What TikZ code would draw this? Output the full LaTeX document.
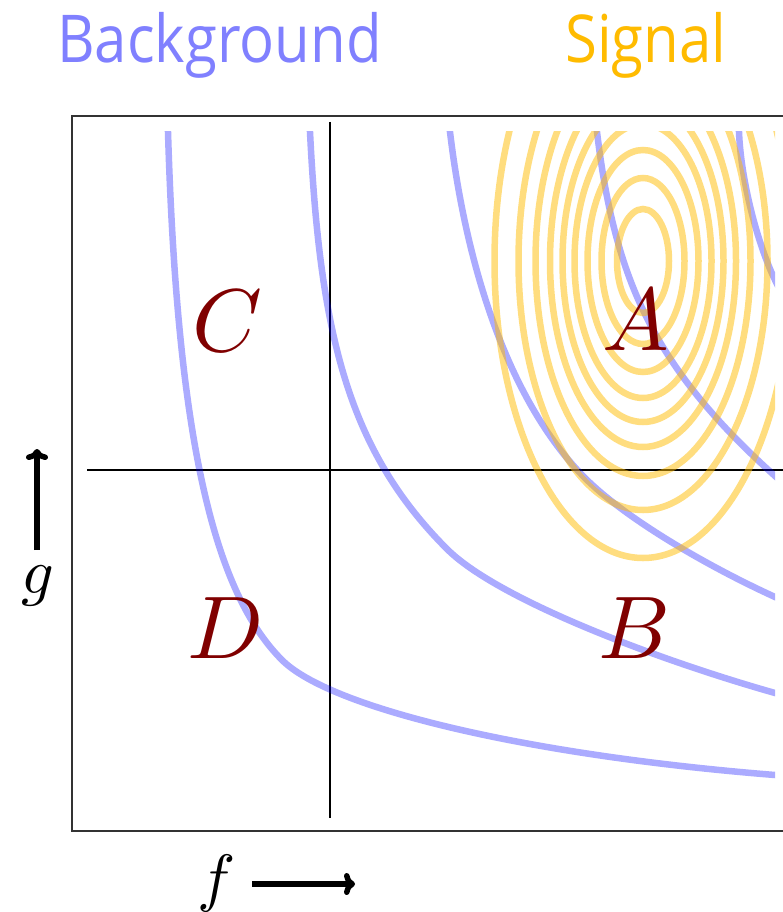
\documentclass[tikz,border=0pt]{standalone}
\usepackage{fontspec}
\newfontfamily\headfont{Open Sans}
\usetikzlibrary{arrows.meta}
\definecolor{bgblue}{RGB}{128,128,255}
\definecolor{sigorange}{RGB}{255,187,0}
\definecolor{labred}{RGB}{128,0,0}
\begin{document}
\begin{tikzpicture}[x=1pt,y=-1pt,
  bgcurve/.style={line width=6.5pt, color=blue, opacity=0.33},
  sigcurve/.style={line width=6.5pt, color=sigorange, opacity=0.5},
  framestyle/.style={line width=1.5pt, color=black!80},
  axisline/.style={line width=1.4pt, color=black},
  biglabel/.style={inner sep=0pt, text=labred},
  axlabel/.style={inner sep=0pt},
  headlabel/.style={inner sep=0pt, anchor=base west, font=\headfont\fontsize{66}{66}\selectfont},
  bigarrow/.style={line width=5.5pt, -{To[length=11pt,width=22pt]}}]
\useasboundingbox (0,0) rectangle (782,912);

% frame
\draw[framestyle] (800,116) -- (72,116) -- (72,831) -- (800,831);

% axes lines
\coordinate (vtop) at (330,122);
\coordinate (vbot) at (330,818);
\coordinate (hleft) at (87,470);
\coordinate (hright) at (800,470);
\draw[axisline] (vtop) -- (vbot);
\draw[axisline] (hleft) -- (hright);

\begin{scope}
\clip (60,132) rectangle (775,840);
% background curves
\draw[bgcurve] (167.6,118) -- (168,132) .. controls (177,432) and (212,590) .. (282,660)
  .. controls (330,708) and (525,755) .. (775,775) -- (795,776.6);
\draw[bgcurve] (309.3,118) -- (310,132) .. controls (320,332) and (347,449) .. (447,549)
  .. controls (497,599) and (655,659) .. (775,693) -- (795,699);
\draw[bgcurve] (448.3,118) -- (450,132) .. controls (468,282) and (515,408) .. (585,478)
  .. controls (625,518) and (705,565) .. (775,597) -- (795,606);
\draw[bgcurve] (595.3,118) -- (597,132) .. controls (615,282) and (655,368) .. (775,476) -- (795,494);
\draw[bgcurve] (738.4,118) -- (739,132) .. controls (741,182) and (758,245) .. (775,280) -- (785,300.6);
% signal contours
\foreach \h in {297,249,215,186,161,137,111,83,52}
  \draw[sigcurve] (643,261) ellipse [x radius=0.5*\h, y radius=\h];
\end{scope}

% region labels
\node[biglabel] (labA) at (636,320) {\scalebox{8.9}{$A$}};
\node[biglabel] (labB) at (634,628) {\scalebox{8.9}{$B$}};
\node[biglabel] (labC) at (227,321) {\scalebox{8.9}{$C$}};
\node[biglabel] (labD) at (226,628) {\scalebox{8.9}{$D$}};

% axis labels and arrows
\node[axlabel] (gl) at (38,586) {\scalebox{6.4}{$g$}};
\node[axlabel] (fl) at (217,883) {\scalebox{6.4}{$f$}};
\coordinate (garrowstart) at (37,550);
\coordinate (garrowend) at (37,449);
\coordinate (farrowstart) at (252,884);
\coordinate (farrowend) at (355,884);
\draw[bigarrow] (garrowstart) -- (garrowend);
\draw[bigarrow] (farrowstart) -- (farrowend);

% titles
\node[headlabel, text=bgblue] (bgtitle) at (57,63) {\scalebox{0.88}[1]{Background}};
\node[headlabel, text=sigorange] (sigtitle) at (565,63) {\scalebox{0.88}[1]{Signal}};
\end{tikzpicture}
\end{document}
